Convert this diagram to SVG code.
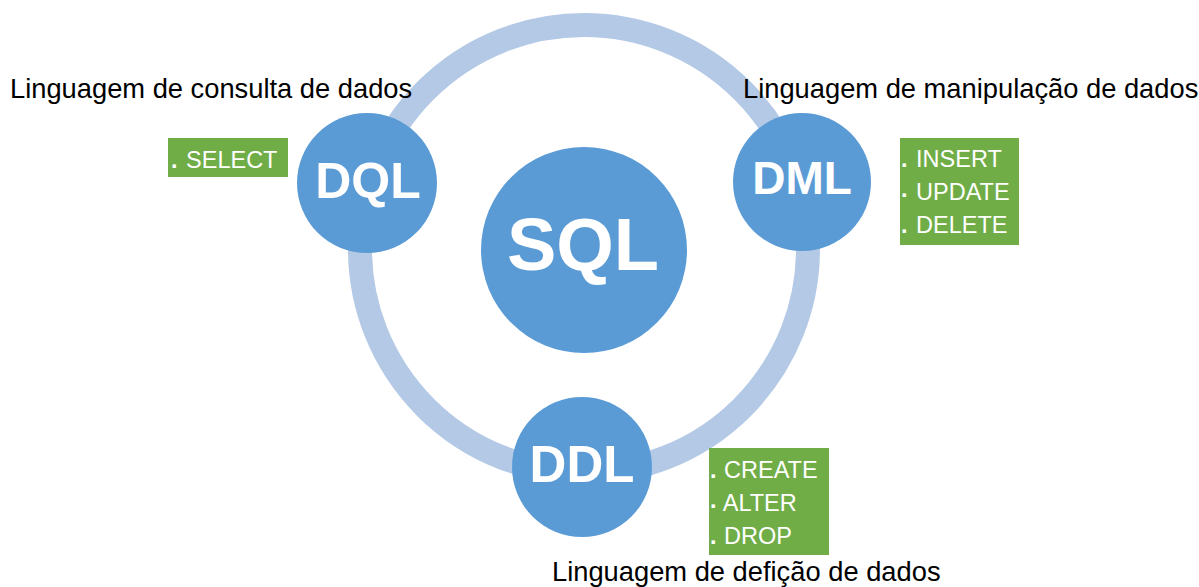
<svg xmlns="http://www.w3.org/2000/svg" width="1199" height="587" viewBox="0 0 1199 587">
<style>
.bg{fill:#ffffff}
.ring{fill:none;stroke:#b4c9e6;stroke-width:24}
.node{fill:#5b9bd5}
.ntxt{font-family:"Liberation Sans",Arial,sans-serif;font-weight:bold;fill:#ffffff;text-anchor:middle}
.box{fill:#70ad47}
.btxt{font-family:"Liberation Sans",Arial,sans-serif;font-size:23.5px;fill:#ffffff}
.dot{font-weight:bold}
.lbl{font-family:"Liberation Sans",Arial,sans-serif;font-size:27.3px;fill:#000000}
</style>
<rect class="bg" x="0" y="0" width="1199" height="587"/>
<g id="connectors">
<circle class="ring" cx="584" cy="249" r="224"/>
</g>
<g id="sql">
<circle class="node" cx="584" cy="250" r="103"/>
<text class="ntxt" x="583" y="270" font-size="74">SQL</text>
</g>
<g id="dql">
<circle class="node" cx="367" cy="183" r="70"/>
<text class="ntxt" x="368" y="198" font-size="50">DQL</text>
<text class="lbl" x="10" y="98">Linguagem de consulta de dados</text>
<rect class="box" x="168" y="138" width="120" height="39"/>
<text class="btxt" x="171" y="168"><tspan class="dot">.</tspan><tspan dx="2"> SELECT</tspan></text>
</g>
<g id="dml">
<circle class="node" cx="802" cy="182" r="69"/>
<text class="ntxt" x="802" y="194" font-size="46">DML</text>
<text class="lbl" x="743" y="98">Linguagem de manipulação de dados</text>
<rect class="box" x="900" y="138" width="119" height="107"/>
<text class="btxt" x="901" y="167"><tspan class="dot">.</tspan><tspan dx="2"> INSERT</tspan></text>
<text class="btxt" x="901" y="200"><tspan class="dot" dy="-3">.</tspan><tspan dx="2" dy="3"> UPDATE</tspan></text>
<text class="btxt" x="901" y="233"><tspan class="dot">.</tspan><tspan dx="2"> DELETE</tspan></text>
</g>
<g id="ddl">
<circle class="node" cx="582" cy="467" r="70"/>
<text class="ntxt" x="582" y="482" font-size="51">DDL</text>
<rect class="box" x="709" y="448" width="120" height="107"/>
<text class="btxt" x="710" y="478"><tspan class="dot">.</tspan><tspan dx="1"> CREATE</tspan></text>
<text class="btxt" x="710" y="511"><tspan class="dot" dy="-3">.</tspan><tspan dx="1" dy="3"> ALTER</tspan></text>
<text class="btxt" x="710" y="544"><tspan class="dot">.</tspan><tspan dx="1"> DROP</tspan></text>
<text class="lbl" x="552" y="581">Linguagem de defição de dados</text>
</g>
</svg>
